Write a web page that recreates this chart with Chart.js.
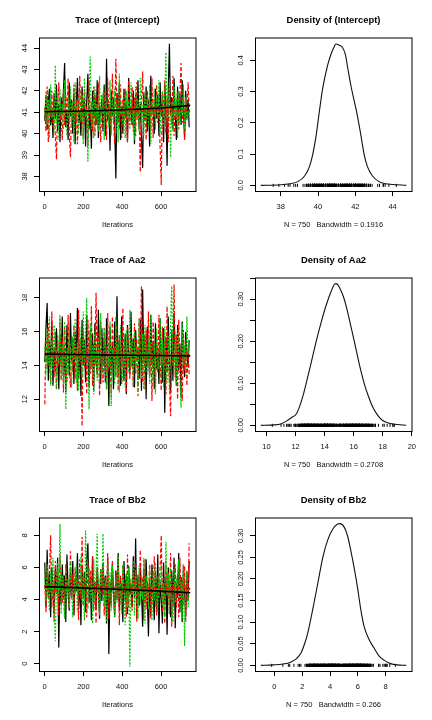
<!DOCTYPE html>
<html>
<head>
<meta charset="utf-8">
<script src="https://cdn.jsdelivr.net/npm/chart.js@4.4.1/dist/chart.umd.min.js"></script>
<style>
  body { margin: 0; background: #fff; }
  #wrap { position: relative; width: 432px; height: 720px; }
  #wrap canvas { position: absolute; }
</style>
</head>
<body>
<div id="wrap">
  <canvas id="traceInt" width="216" height="240" style="left:0;top:0"></canvas>
  <canvas id="densInt" width="216" height="240" style="left:216px;top:0"></canvas>
  <canvas id="traceAa" width="216" height="240" style="left:0;top:240px"></canvas>
  <canvas id="densAa" width="216" height="240" style="left:216px;top:240px"></canvas>
  <canvas id="traceBb" width="216" height="240" style="left:0;top:480px"></canvas>
  <canvas id="densBb" width="216" height="240" style="left:216px;top:480px"></canvas>
</div>
<script>
// trace samples, one kept value every iterStep iterations, 3 chains per parameter
const iterStep = 6;

const intChain1 = [
  40.6, 41.8, 40.2, 41.5, 42.1, 40.4, 41.2, 39.8, 41.9, 40.7, 42.3, 40.1, 41.4, 39.6, 41.7, 40.9, 42.0, 43.3, 40.3, 41.1, 39.7, 42.4, 40.8, 41.6, 40.0,
  41.9, 39.5, 41.3, 42.6, 40.5, 41.0, 39.9, 42.2, 40.6, 41.7, 39.4, 41.5, 42.8, 40.2, 41.1, 39.3, 42.0, 40.7, 41.8, 40.4, 42.5, 39.8, 41.2, 40.9, 41.6,
  40.1, 42.3, 39.9, 43.5, 40.6, 41.4, 39.2, 42.0, 40.8, 41.7, 40.3, 37.9, 41.9, 40.5, 42.4, 39.7, 41.3, 40.0, 42.1, 40.7, 41.5, 39.6, 42.6, 40.9, 41.2,
  40.4, 42.0, 39.5, 41.8, 40.8, 42.5, 40.2, 41.4, 39.8, 38.4, 41.9, 40.6, 42.2, 40.1, 41.6, 39.4, 42.7, 40.9, 41.3, 40.0, 42.1, 40.7, 41.8, 39.9, 42.4,
  40.8, 41.5, 39.6, 42.3, 41.1, 38.5, 42.0, 44.2, 40.9, 41.7, 40.2, 42.6, 41.0, 39.7, 42.2, 40.6, 41.9, 40.4, 42.5, 41.2, 39.8, 42.0, 40.7, 41.6, 40.3
];
const intChain2 = [
  41.2, 40.1, 42.2, 39.6, 41.5, 40.8, 42.0, 40.3, 41.7, 39.9, 38.8, 41.3, 42.4, 40.6, 41.0, 39.7, 42.1, 40.4, 41.8, 40.9, 42.6, 40.0, 38.9, 41.4, 40.7,
  42.3, 40.2, 41.6, 39.5, 41.1, 42.7, 40.5, 41.9, 39.8, 42.0, 40.8, 41.3, 39.4, 42.5, 40.6, 41.5, 40.1, 42.2, 39.9, 41.7, 40.4, 42.4, 40.9, 39.6, 41.8,
  40.3, 42.0, 41.2, 39.7, 42.6, 40.5, 41.4, 40.0, 42.8, 40.7, 39.5, 43.5, 40.8, 41.9, 40.2, 42.3, 39.8, 41.6, 40.6, 42.1, 41.0, 39.6, 42.5, 40.4, 41.3,
  42.2, 40.1, 41.7, 39.9, 42.4, 40.6, 41.1, 38.2, 41.5, 42.9, 40.3, 41.8, 39.7, 42.0, 40.9, 41.4, 40.2, 42.6, 39.8, 41.6, 40.7, 42.3, 40.5, 41.2, 39.4,
  37.6, 41.9, 40.8, 42.5, 40.0, 41.7, 39.6, 42.2, 41.0, 40.4, 42.7, 39.9, 41.3, 40.6, 42.0, 40.2, 41.8, 43.3, 40.5, 42.1, 39.7, 41.5, 40.9, 42.4, 41.1
];
const intChain3 = [
  40.9, 42.0, 40.4, 41.6, 39.8, 42.3, 40.7, 41.2, 40.1, 43.2, 40.5, 41.9, 39.7, 42.1, 40.8, 41.4, 40.2, 42.5, 41.0, 39.9, 41.7, 40.6, 42.2, 40.3, 41.5,
  39.6, 42.4, 40.9, 41.3, 40.0, 42.0, 40.6, 41.8, 39.5, 42.6, 40.8, 41.1, 38.7, 41.7, 43.6, 40.2, 41.5, 39.8, 42.2, 40.7, 41.4, 40.1, 42.7, 40.5, 41.0,
  41.9, 39.7, 42.3, 40.8, 41.2, 40.3, 42.5, 39.9, 41.6, 40.6, 42.1, 40.0, 41.4, 39.6, 42.8, 40.9, 41.3, 40.4, 41.8, 39.8, 42.0, 40.7, 41.5, 40.2, 42.4,
  40.5, 41.1, 39.7, 42.2, 40.8, 41.6, 40.1, 42.6, 40.4, 41.3, 39.9, 42.0, 40.6, 41.8, 40.3, 42.3, 39.5, 41.5, 40.9, 42.1, 40.2, 41.7, 40.7, 42.5, 40.0,
  41.4, 42.0, 40.3, 41.8, 43.8, 40.6, 41.2, 42.4, 38.9, 41.5, 40.1, 42.2, 40.8, 41.6, 39.8, 42.0, 40.5, 41.3, 40.9, 42.3, 40.2, 41.7, 40.6, 41.1, 40.8
];

const aaChain1 = [
  14.2, 16.3, 17.7, 13.1, 15.4, 14.0, 16.6, 12.8, 15.1, 13.6, 16.2, 14.5, 12.6, 15.8, 14.1, 16.9, 13.3, 15.0, 12.4, 16.4, 14.7, 13.4, 17.1, 14.3, 15.6,
  12.9, 16.0, 14.4, 17.4, 13.2, 15.3, 12.2, 16.7, 14.0, 15.5, 13.0, 17.0, 14.6, 12.7, 16.1, 13.8, 15.9, 12.5, 16.5, 14.2, 13.5, 17.3, 14.8, 12.9, 16.2,
  14.1, 15.7, 13.0, 16.8, 14.5, 11.6, 16.3, 13.7, 15.2, 12.6, 16.6, 14.0, 18.1, 13.3, 15.5, 12.8, 16.9, 14.4, 13.1, 15.9, 12.3, 16.4, 14.6, 13.5, 17.2,
  13.9, 15.6, 12.7, 16.1, 14.3, 15.0, 13.2, 16.7, 12.5, 18.5, 14.1, 15.8, 12.0, 16.3, 14.7, 13.4, 17.0, 14.0, 15.4, 12.6, 16.5, 13.8, 15.1, 12.9, 16.8,
  14.4, 13.0, 16.2, 11.2, 15.7, 13.6, 16.9, 14.2, 12.4, 15.9, 13.1, 17.1, 14.6, 12.8, 16.4, 13.7, 15.3, 12.1, 16.6, 14.3, 13.3, 16.0, 14.8, 13.9, 15.5
];
const aaChain2 = [
  11.7, 15.9, 13.8, 16.5, 14.2, 12.9, 17.2, 14.6, 13.3, 16.0, 12.6, 15.4, 14.0, 16.8, 13.1, 15.7, 12.4, 16.3, 14.5, 13.0, 17.0, 14.1, 12.7, 15.8, 13.6,
  16.4, 13.2, 15.1, 12.5, 17.3, 14.3, 15.6, 10.4, 16.1, 13.9, 15.0, 12.3, 16.7, 14.4, 13.5, 17.5, 12.8, 15.3, 14.0, 18.3, 13.4, 15.9, 12.2, 16.6, 14.7,
  13.0, 16.2, 14.8, 12.6, 17.1, 13.7, 15.5, 12.1, 16.9, 14.2, 15.1, 13.3, 16.4, 12.5, 15.8, 14.6, 12.9, 17.4, 13.8, 15.2, 12.4, 16.3, 14.1, 13.2, 16.0,
  14.9, 12.7, 16.5, 13.5, 15.6, 12.2, 16.8, 14.3, 18.7, 13.0, 15.9, 12.6, 16.1, 14.0, 17.2, 13.4, 15.3, 11.9, 16.6, 14.5, 12.8, 15.7, 13.6, 17.0, 14.2,
  12.5, 16.3, 13.9, 15.4, 12.3, 17.5, 14.4, 13.1, 11.0, 16.2, 14.0, 18.8, 13.3, 15.8, 12.0, 16.7, 14.6, 13.2, 11.9, 16.1, 13.7, 15.5, 12.8, 14.9, 13.4
];
const aaChain3 = [
  15.1, 13.4, 16.2, 14.0, 16.9, 12.8, 15.5, 13.7, 16.4, 14.3, 12.6, 15.8, 14.1, 17.0, 13.2, 15.3, 12.9, 16.6, 11.4, 15.0, 13.6, 16.1, 14.5, 12.7, 15.7,
  14.2, 16.8, 13.0, 15.4, 12.5, 16.3, 14.6, 13.3, 17.2, 14.0, 15.9, 18.0, 14.4, 11.4, 16.5, 13.8, 15.2, 12.3, 16.0, 14.7, 13.1, 15.6, 12.8, 17.1, 14.3,
  13.5, 16.2, 14.1, 12.6, 15.7, 13.9, 16.6, 11.6, 15.0, 14.5, 12.9, 16.9, 13.4, 15.3, 12.4, 16.4, 14.2, 13.0, 15.8, 12.7, 16.1, 14.8, 13.6, 17.3, 14.0,
  15.4, 12.8, 16.0, 13.7, 15.1, 12.5, 16.7, 14.3, 13.2, 15.9, 12.6, 16.4, 14.0, 13.5, 15.6, 12.9, 17.0, 14.6, 13.1, 15.3, 12.3, 16.2, 14.4, 13.8, 16.8,
  13.3, 15.5, 12.7, 16.3, 14.1, 13.0, 15.8, 12.4, 16.6, 18.7, 14.2, 13.6, 15.9, 12.8, 16.1, 14.5, 13.2, 11.5, 16.5, 14.0, 15.2, 13.4, 16.9, 14.7, 15.6
];

const bbChain1 = [
  6.3, 3.5, 7.1, 4.2, 5.6, 2.9, 6.0, 4.8, 3.1, 5.9, 4.4, 6.6, 1.0, 5.2, 3.7, 6.2, 4.0, 5.5, 2.6, 6.8, 4.6, 3.3, 5.8, 4.1, 6.4,
  3.0, 5.3, 4.5, 6.9, 3.6, 5.0, 2.4, 6.1, 4.3, 5.7, 3.2, 6.5, 7.5, 3.8, 5.4, 2.7, 6.7, 4.1, 5.1, 3.4, 6.0, 4.6, 2.8, 5.9, 3.9,
  6.3, 4.2, 5.5, 2.5, 6.6, 0.6, 5.0, 3.7, 6.2, 4.4, 2.9, 5.8, 4.0, 6.9, 3.3, 5.2, 4.7, 2.6, 6.4, 3.9, 5.6, 3.1, 6.1, 4.3, 5.0,
  3.5, 6.7, 4.1, 7.8, 2.8, 5.4, 3.6, 6.0, 4.5, 2.3, 5.9, 3.8, 6.5, 4.2, 1.7, 5.3, 3.0, 6.2, 4.6, 2.7, 5.7, 3.4, 6.8, 1.9, 5.1,
  4.0, 2.5, 6.3, 3.7, 5.5, 1.8, 6.0, 4.3, 2.9, 5.8, 3.5, 6.6, 2.2, 5.0, 4.1, 6.9, 3.2, 5.4, 2.6, 6.1, 4.4, 3.0, 5.7, 3.9, 6.4
];
const bbChain2 = [
  4.9, 3.2, 6.1, 4.0, 5.7, 8.0, 3.5, 5.2, 2.6, 6.4, 4.3, 5.9, 3.0, 6.8, 4.7, 3.8, 5.5, 2.8, 6.2, 4.4, 5.0, 3.4, 7.0, 4.1, 5.6,
  3.1, 6.0, 4.6, 5.3, 2.7, 6.5, 4.0, 7.9, 3.6, 5.4, 4.8, 2.9, 6.3, 3.9, 5.8, 4.2, 6.7, 3.3, 5.1, 2.5, 6.0, 4.5, 3.7, 5.9, 4.3,
  6.2, 3.0, 5.4, 4.1, 6.9, 2.8, 5.2, 3.6, 6.4, 4.6, 3.2, 5.7, 4.0, 6.6, 2.4, 5.5, 3.8, 6.1, 4.3, 5.0, 2.9, 6.8, 3.5, 5.3, 4.4,
  3.3, 5.9, 4.7, 6.3, 2.6, 5.6, 3.9, 7.1, 4.2, 5.4, 2.7, 6.5, 3.4, 5.1, 4.0, 6.2, 2.8, 5.8, 3.6, 6.7, 4.5, 3.0, 5.5, 4.1, 6.0,
  8.0, 3.2, 5.3, 2.5, 6.4, 4.2, 5.7, 3.1, 6.9, 2.3, 5.0, 4.4, 6.2, 3.5, 5.6, 2.9, 6.6, 4.0, 5.2, 3.7, 6.1, 2.6, 5.8, 4.3, 7.5
];
const bbChain3 = [
  5.4, 3.9, 6.2, 4.5, 3.3, 5.8, 4.1, 6.6, 3.6, 1.4, 5.0, 6.3, 4.2, 8.7, 3.1, 5.5, 4.7, 2.8, 6.0, 4.0, 5.3, 3.5, 6.4, 4.6, 2.9,
  5.7, 4.3, 6.1, 3.2, 5.0, 4.4, 6.8, 3.7, 5.6, 2.7, 8.3, 4.8, 3.4, 6.0, 4.1, 5.2, 2.5, 6.5, 3.9, 5.5, 8.1, 4.2, 3.0, 5.9, 4.6,
  8.1, 3.6, 5.1, 2.6, 6.3, 4.0, 5.7, 3.3, 6.1, 4.5, 2.9, 5.4, 3.8, 6.7, 4.2, 5.0, 3.1, 6.2, 4.7, 2.4, 5.6, 3.5, 6.0, -0.2, 5.3,
  4.3, 6.4, 3.0, 5.8, 4.6, 2.8, 6.1, 3.7, 5.2, 4.0, 6.6, 2.5, 5.5, 4.2, 3.4, 6.0, 4.8, 2.7, 5.7, 3.9, 6.3, 4.1, 3.2, 5.4, 4.5,
  6.2, 3.6, 5.0, 2.9, 7.6, 4.3, 5.6, 3.1, 6.0, 4.4, 2.6, 5.9, 3.8, 5.3, 4.7, 6.5, 3.3, 5.1, 2.8, 6.2, 1.1, 4.9, 5.7, 3.5, 4.6
];

// smoothed running level of each chain
const smoothIter = [1, 150, 300, 450, 600, 750];
const intSmooth1 = [41.02, 41.05, 41.08, 41.13, 41.2, 41.32];
const intSmooth2 = [41.03, 41.04, 41.05, 41.05, 41.06, 41.06];
const intSmooth3 = [40.98, 41.0, 41.02, 41.03, 41.03, 41.02];
const aaSmooth1 = [14.67, 14.65, 14.63, 14.61, 14.59, 14.56];
const aaSmooth2 = [14.62, 14.62, 14.61, 14.61, 14.6, 14.6];
const aaSmooth3 = [14.58, 14.6, 14.62, 14.62, 14.6, 14.58];
const bbSmooth1 = [4.8, 4.74, 4.67, 4.6, 4.52, 4.42];
const bbSmooth2 = [4.77, 4.76, 4.74, 4.72, 4.7, 4.68];
const bbSmooth3 = [4.68, 4.7, 4.7, 4.68, 4.66, 4.64];

// density curves
const densIntX = [36.93, 38.0, 38.48, 38.92, 39.28, 39.54, 39.72, 39.9, 40.08, 40.25, 40.52, 40.7, 40.88, 40.96, 41.14, 41.32, 41.46, 41.58, 41.76, 41.94, 42.12, 42.3, 42.47, 42.65, 42.92, 43.27, 43.63, 43.98, 44.73];
const densIntY = [0, 0.002, 0.005, 0.012, 0.03, 0.06, 0.1, 0.16, 0.24, 0.31, 0.385, 0.42, 0.445, 0.452, 0.448, 0.44, 0.42, 0.38, 0.32, 0.27, 0.22, 0.16, 0.1, 0.06, 0.03, 0.012, 0.005, 0.003, 0];
const densAaX = [9.61, 10.57, 11.03, 11.37, 11.71, 12.05, 12.28, 12.51, 12.73, 13.08, 13.42, 13.76, 14.1, 14.44, 14.74, 14.9, 15.13, 15.35, 15.58, 15.81, 16.04, 16.26, 16.49, 16.72, 16.95, 17.29, 17.63, 17.97, 18.43, 19.0, 19.61];
const densAaY = [0, 0.001, 0.004, 0.01, 0.018, 0.027, 0.045, 0.07, 0.1, 0.15, 0.2, 0.245, 0.285, 0.318, 0.337, 0.335, 0.32, 0.3, 0.27, 0.235, 0.2, 0.165, 0.13, 0.1, 0.075, 0.045, 0.025, 0.012, 0.005, 0.002, 0];
const densBbX = [-0.98, -0.1, 0.62, 1.21, 1.57, 1.93, 2.17, 2.4, 2.76, 3.12, 3.48, 3.83, 4.19, 4.55, 4.71, 5.02, 5.26, 5.5, 5.74, 5.98, 6.21, 6.45, 6.81, 7.17, 7.52, 7.88, 8.36, 8.83, 9.48];
const densBbY = [0, 0.001, 0.003, 0.008, 0.015, 0.03, 0.05, 0.075, 0.13, 0.19, 0.25, 0.29, 0.315, 0.327, 0.328, 0.32, 0.3, 0.265, 0.225, 0.18, 0.13, 0.09, 0.06, 0.04, 0.022, 0.012, 0.004, 0.001, 0];

// tick values and labels
const traceXTicks = [0, 200, 400, 600];
const intYTicks = [38, 39, 40, 41, 42, 43, 44];
const aaYTicks = [12, 14, 16, 18];
const bbYTicks = [0, 2, 4, 6, 8];
const densIntXTicks = [38, 40, 42, 44];
const densIntYTicks = [0, 0.1, 0.2, 0.3, 0.4];
const densIntYLabels = ["0.0", "0.1", "0.2", "0.3", "0.4"];
const densAaXTicks = [10, 12, 14, 16, 18, 20];
const densAaYTicks = [0, 0.05, 0.1, 0.15, 0.2, 0.25, 0.3, 0.35];
const densAaYLabels = ["0.00", "", "0.10", "", "0.20", "", "0.30", ""];
const densBbXTicks = [0, 2, 4, 6, 8];
const densBbYTicks = [0, 0.05, 0.1, 0.15, 0.2, 0.25, 0.3];
const densBbYLabels = ["0.00", "0.05", "0.10", "0.15", "0.20", "0.25", "0.30"];

const FONT = "'Liberation Sans', Arial, Helvetica, sans-serif";
Chart.defaults.font.family = FONT;
Chart.defaults.color = "#111";

// R style decorations: box, rotated y labels, title, x label
const rPlot = {
  id: "rPlot",
  afterDraw(chart, args, opts) {
    const { ctx, chartArea: a } = chart;
    const ys = chart.scales.y;
    ctx.save();
    ctx.strokeStyle = "#000";
    ctx.lineWidth = 1;
    ctx.strokeRect(a.left + 0.5, a.top, a.right - a.left - 0.5, a.bottom + 0.5 - a.top);

    ctx.fillStyle = "#111";
    ctx.font = "7.5px " + FONT;
    ctx.textAlign = "center";
    ctx.textBaseline = "middle";
    opts.yTicks.forEach((v, i) => {
      const lab = opts.yLabels[i];
      if (!lab) return;
      ctx.save();
      ctx.translate(25, ys.getPixelForValue(v));
      ctx.rotate(-Math.PI / 2);
      ctx.fillText(lab, 0, 0);
      ctx.restore();
    });
    ctx.fillText(opts.xlab, (a.left + a.right) / 2, 225.3);

    ctx.fillStyle = "#000";
    ctx.font = "bold 9.4px " + FONT;
    ctx.fillText(opts.title, (a.left + a.right) / 2, 20);
    ctx.restore();
  },
};

function makeChart(id, p) {
  new Chart(document.getElementById(id), {
    type: "line",
    data: { datasets: p.datasets },
    plugins: [rPlot],
    options: {
      responsive: false,
      animation: false,
      events: [],
      layout: { padding: { top: 38, right: 20, left: 0, bottom: 0 } },
      plugins: {
        legend: { display: false },
        tooltip: { enabled: false },
        rPlot: { title: p.title, xlab: p.xlab, yTicks: p.yTicks, yLabels: p.yLabels },
      },
      scales: {
        x: {
          type: "linear",
          min: p.xMin,
          max: p.xMax,
          afterBuildTicks: (s) => { s.ticks = p.xTicks.map((v) => ({ value: v })); },
          afterFit: (s) => { s.height = 49; s.paddingLeft = 0; s.paddingRight = 0; },
          border: { display: false },
          grid: { drawOnChartArea: false, drawTicks: true, tickLength: 5, color: "#000", lineWidth: 1 },
          ticks: { font: { size: 7.5 }, padding: 6, maxRotation: 0, autoSkip: false, color: "#111", callback: (v) => String(v) },
        },
        y: {
          type: "linear",
          min: p.yMin,
          max: p.yMax,
          afterBuildTicks: (s) => { s.ticks = p.yTicks.map((v) => ({ value: v })); },
          afterFit: (s) => { s.width = 39; s.paddingTop = 0; s.paddingBottom = 0; },
          border: { display: false },
          grid: { drawOnChartArea: false, drawTicks: true, tickLength: 5, color: "#000", lineWidth: 1 },
          ticks: { display: false },
        },
      },
    },
  });
}

const chainStyles = [
  { color: "#000000", dash: [] },
  { color: "#FF0000", dash: [4, 2] },
  { color: "#00CD00", dash: [2, 1.5] },
];

function traceSets(chains, smooths) {
  const sets = [];
  smooths.forEach((s, k) => {
    sets.push({
      data: s.map((v, i) => ({ x: smoothIter[i], y: v })),
      borderColor: chainStyles[k].color,
      borderDash: chainStyles[k].dash,
      borderWidth: 1.6,
      pointRadius: 0,
      order: 0,
    });
  });
  chains.forEach((c, k) => {
    sets.push({
      data: c.map((v, i) => ({ x: i * iterStep + 1, y: v })),
      borderColor: chainStyles[k].color,
      borderDash: chainStyles[k].dash,
      borderWidth: 1.2,
      pointRadius: 0,
      order: 3 - k,
    });
  });
  return sets;
}

function densSets(xs, ys, chains) {
  const pooled = chains[0].concat(chains[1], chains[2]);
  return [
    {
      data: xs.map((x, i) => ({ x: x, y: ys[i] })),
      borderColor: "#111",
      borderWidth: 1.1,
      pointRadius: 0,
      cubicInterpolationMode: "monotone",
    },
    {
      data: pooled.map((v) => ({ x: v, y: 0 })),
      showLine: false,
      pointStyle: "line",
      pointRotation: 90,
      pointRadius: 1.5,
      pointBorderWidth: 1,
      pointBorderColor: "#000",
      borderColor: "#000",
    },
  ];
}

const intChains = [intChain1, intChain2, intChain3];
const aaChains = [aaChain1, aaChain2, aaChain3];
const bbChains = [bbChain1, bbChain2, bbChain3];

makeChart("traceInt", {
  title: "Trace of (Intercept)", xlab: "Iterations",
  datasets: traceSets(intChains, [intSmooth1, intSmooth2, intSmooth3]),
  xMin: -29, xMax: 780, xTicks: traceXTicks,
  yMin: 37.32, yMax: 44.47, yTicks: intYTicks, yLabels: intYTicks.map(String),
});
makeChart("densInt", {
  title: "Density of (Intercept)", xlab: "N = 750   Bandwidth = 0.1916",
  datasets: densSets(densIntX, densIntY, intChains),
  xMin: 36.62, xMax: 45.04, xTicks: densIntXTicks,
  yMin: -0.018, yMax: 0.471, yTicks: densIntYTicks, yLabels: densIntYLabels,
});
makeChart("traceAa", {
  title: "Trace of Aa2", xlab: "Iterations",
  datasets: traceSets(aaChains, [aaSmooth1, aaSmooth2, aaSmooth3]),
  xMin: -29, xMax: 780, xTicks: traceXTicks,
  yMin: 10.12, yMax: 19.18, yTicks: aaYTicks, yLabels: aaYTicks.map(String),
});
makeChart("densAa", {
  title: "Density of Aa2", xlab: "N = 750   Bandwidth = 0.2708",
  datasets: densSets(densAaX, densAaY, aaChains),
  xMin: 9.21, xMax: 20.01, xTicks: densAaXTicks,
  yMin: -0.0135, yMax: 0.3505, yTicks: densAaYTicks, yLabels: densAaYLabels,
});
makeChart("traceBb", {
  title: "Trace of Bb2", xlab: "Iterations",
  datasets: traceSets(bbChains, [bbSmooth1, bbSmooth2, bbSmooth3]),
  xMin: -29, xMax: 780, xTicks: traceXTicks,
  yMin: -0.46, yMax: 9.08, yTicks: bbYTicks, yLabels: bbYTicks.map(String),
});
makeChart("densBb", {
  title: "Density of Bb2", xlab: "N = 750   Bandwidth = 0.266",
  datasets: densSets(densBbX, densBbY, bbChains),
  xMin: -1.4, xMax: 9.9, xTicks: densBbXTicks,
  yMin: -0.0131, yMax: 0.3411, yTicks: densBbYTicks, yLabels: densBbYLabels,
});
</script>
</body>
</html>
